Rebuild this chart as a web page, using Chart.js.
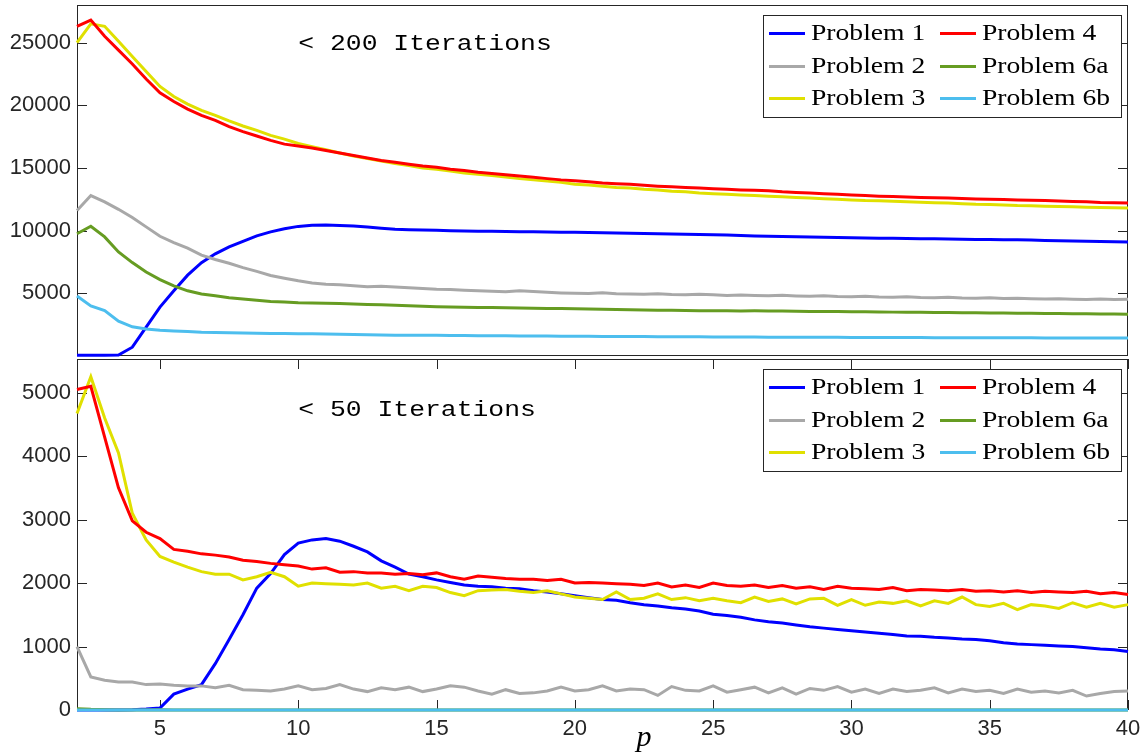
<!DOCTYPE html>
<html>
<head>
<meta charset="utf-8">
<script src="https://cdn.jsdelivr.net/npm/chart.js@4.4.0/dist/chart.umd.min.js"></script>
<style>
  html, body { margin: 0; padding: 0; background: #fff; }
  #wrap { position: relative; width: 1148px; height: 753px; }
  canvas { position: absolute; left: 0; }
  #top200 { top: 0; }
  #top50 { top: 357px; }
</style>
</head>
<body>
<div id="wrap">
  <canvas id="top200" width="1148" height="358"></canvas>
  <canvas id="top50" width="1148" height="396"></canvas>
</div>
<script>
// p values (x axis), one sample every 0.5
var pVals = [
  2, 2.5, 3, 3.5, 4, 4.5, 5, 5.5, 6, 6.5,
  7, 7.5, 8, 8.5, 9, 9.5, 10, 10.5, 11, 11.5,
  12, 12.5, 13, 13.5, 14, 14.5, 15, 15.5, 16, 16.5,
  17, 17.5, 18, 18.5, 19, 19.5, 20, 20.5, 21, 21.5,
  22, 22.5, 23, 23.5, 24, 24.5, 25, 25.5, 26, 26.5,
  27, 27.5, 28, 28.5, 29, 29.5, 30, 30.5, 31, 31.5,
  32, 32.5, 33, 33.5, 34, 34.5, 35, 35.5, 36, 36.5,
  37, 37.5, 38, 38.5, 39, 39.5, 40
];

var xTicks = [5, 10, 15, 20, 25, 30, 35, 40];
var yTicks200 = [5000, 10000, 15000, 20000, 25000];
var yTicks50 = [0, 1000, 2000, 3000, 4000, 5000];

var seriesNames = ['Problem 1', 'Problem 2', 'Problem 3', 'Problem 4', 'Problem 6a', 'Problem 6b'];
var lineColors = ['#0000ff', '#a8a8a8', '#e0e000', '#ff0000', '#669c22', '#4dbeee'];

// ---- < 200 iterations ----
var p1_200 = [
  50, 50, 60, 80, 700, 2300, 3900, 5200, 6450, 7450,
  8150, 8700, 9150, 9580, 9900, 10150, 10340, 10430, 10450, 10420,
  10380, 10300, 10200, 10120, 10080, 10050, 10030, 10000, 9980, 9960,
  9950, 9930, 9920, 9910, 9900, 9880, 9870, 9860, 9840, 9820,
  9800, 9780, 9760, 9740, 9720, 9700, 9680, 9650, 9610, 9580,
  9550, 9530, 9510, 9490, 9470, 9450, 9430, 9410, 9400, 9390,
  9370, 9360, 9350, 9330, 9320, 9300, 9290, 9280, 9270, 9250,
  9220, 9200, 9170, 9150, 9130, 9110, 9090
];
var p2_200 = [
  11600, 12800, 12300, 11700, 11050, 10300, 9550, 9050, 8600, 8050,
  7700, 7400, 7050, 6750, 6420, 6200, 6000, 5830, 5720, 5680,
  5600, 5530, 5560, 5500, 5440, 5380, 5320, 5300, 5240, 5200,
  5160, 5120, 5200, 5150, 5080, 5030, 5000, 4980, 5040, 4960,
  4940, 4920, 4960, 4900, 4880, 4930, 4880, 4830, 4860, 4820,
  4800, 4840, 4790, 4760, 4800, 4740, 4720, 4760, 4700, 4680,
  4720, 4660, 4640, 4680, 4620, 4600, 4640, 4580, 4600, 4560,
  4540, 4570, 4530, 4500, 4540, 4500, 4520
];
var p3_200 = [
  25000, 26500, 26300, 25100, 23900, 22700, 21500, 20700, 20100, 19600,
  19200, 18750, 18350, 18000, 17600, 17300, 16950, 16700, 16450, 16200,
  15950, 15750, 15550, 15350, 15200, 15000, 14900, 14750, 14600, 14500,
  14400, 14280, 14150, 14050, 13950, 13850, 13700, 13650, 13550, 13450,
  13400, 13300, 13250, 13150, 13100, 13000, 12950, 12900, 12850, 12800,
  12750, 12700, 12650, 12600, 12550, 12500, 12450, 12400, 12380, 12340,
  12300, 12260, 12230, 12200, 12150, 12100, 12080, 12050, 12000, 11980,
  11950, 11920, 11900, 11870, 11850, 11830, 11800
];
var p4_200 = [
  26300, 26800, 25500, 24400, 23300, 22100, 21000, 20300, 19700, 19200,
  18800, 18300, 17900, 17550, 17200, 16900, 16750, 16600, 16400, 16200,
  16000, 15800, 15600, 15450, 15300, 15150, 15050, 14900, 14800, 14650,
  14550, 14450, 14350, 14250, 14150, 14050, 13980, 13900, 13800, 13750,
  13700, 13620, 13550, 13500, 13450, 13400, 13350, 13300, 13250, 13220,
  13180, 13100, 13050, 13000, 12950, 12900, 12850, 12800, 12750, 12720,
  12680, 12650, 12620, 12600, 12560, 12530, 12500, 12480, 12450, 12420,
  12400, 12370, 12330, 12300, 12250, 12230, 12200
];
var p6a_200 = [
  9750, 10350, 9500, 8300, 7450, 6700, 6100, 5600, 5200, 4950,
  4800, 4650, 4550, 4450, 4350, 4300, 4250, 4230, 4200, 4180,
  4140, 4110, 4080, 4050, 4000, 3960, 3930, 3910, 3890, 3870,
  3860, 3850, 3830, 3810, 3790, 3780, 3760, 3740, 3720, 3700,
  3690, 3670, 3650, 3640, 3630, 3610, 3600, 3600, 3590, 3600,
  3590, 3580, 3560, 3550, 3550, 3540, 3530, 3520, 3510, 3500,
  3490, 3490, 3480, 3470, 3460, 3450, 3440, 3430, 3420, 3410,
  3400, 3390, 3380, 3370, 3360, 3350, 3340
];
var p6b_200 = [
  4780, 4000, 3620, 2780, 2330, 2150, 2050, 1990, 1950, 1900,
  1880, 1850, 1830, 1810, 1800, 1790, 1780, 1770, 1760, 1740,
  1720, 1700, 1680, 1660, 1650, 1650, 1650, 1640, 1630, 1620,
  1620, 1610, 1600, 1600, 1590, 1580, 1570, 1570, 1560, 1560,
  1550, 1550, 1540, 1540, 1530, 1530, 1520, 1520, 1515, 1510,
  1505, 1500, 1500, 1495, 1490, 1490, 1485, 1480, 1480, 1475,
  1470, 1470, 1465, 1460, 1460, 1455, 1455, 1450, 1450, 1450,
  1445, 1445, 1440, 1440, 1440, 1440, 1440
];

// ---- < 50 iterations ----
var p1_50 = [
  0, 0, 0, 0, 5, 15, 30, 250, 330, 400,
  730, 1110, 1500, 1920, 2150, 2450, 2630, 2680, 2700, 2660,
  2580, 2490, 2350, 2250, 2140, 2100, 2050, 2010, 1970, 1950,
  1940, 1920, 1910, 1880, 1860, 1830, 1800, 1770, 1740, 1730,
  1690, 1660, 1640, 1610, 1590, 1560, 1510, 1490, 1460, 1420,
  1390, 1370, 1340, 1310, 1290, 1270, 1250, 1230, 1210, 1190,
  1165, 1160, 1145, 1135, 1120, 1110, 1090, 1060, 1040, 1030,
  1020, 1010, 1000, 980, 960, 950, 920
];
var p2_50 = [
  1000, 520, 470, 440, 440, 400, 410, 390, 380, 380,
  350, 390, 320, 310, 300, 330, 380, 320, 340, 400,
  330, 290, 350, 320, 360, 290, 330, 380, 360, 300,
  250, 320, 260, 270, 300, 360, 300, 320, 380, 300,
  330, 320, 230, 370, 310, 300, 380, 280, 320, 360,
  270, 350, 250, 340, 310, 370, 280, 330, 260, 330,
  290, 310, 350, 270, 330, 290, 310, 260, 330, 280,
  300, 270, 310, 220, 260, 290, 300
];
var p3_50 = [
  4670, 5250, 4600, 4050, 3100, 2680, 2420, 2330, 2250, 2180,
  2140, 2140, 2050, 2100, 2170, 2100, 1950, 2000, 1990, 1980,
  1970, 2000, 1920, 1950, 1880, 1950, 1930, 1850, 1800, 1880,
  1890, 1900, 1870, 1850, 1880, 1830, 1780, 1760, 1740, 1860,
  1740, 1760, 1830, 1740, 1770, 1720, 1760, 1720, 1690, 1780,
  1710, 1750, 1670, 1750, 1760, 1650, 1740, 1650, 1700, 1680,
  1720, 1640, 1720, 1680, 1780, 1660, 1630, 1680, 1580, 1660,
  1640, 1600, 1690, 1620, 1680, 1620, 1660
];
var p4_50 = [
  5050, 5100, 4300, 3500, 2980, 2800, 2700, 2530, 2500, 2460,
  2440, 2410, 2360, 2340, 2310, 2290, 2270, 2220, 2240, 2170,
  2180, 2160, 2160, 2140, 2150, 2130, 2160, 2100, 2060, 2110,
  2090, 2070, 2060, 2060, 2040, 2060, 2000, 2010, 2000, 1990,
  1980, 1960, 2000, 1940, 1970, 1930, 2000, 1960, 1950, 1970,
  1930, 1960, 1920, 1940, 1900, 1950, 1920, 1910, 1900, 1930,
  1880, 1900, 1890, 1880, 1900, 1870, 1880, 1860, 1880, 1850,
  1870, 1860, 1850, 1870, 1830, 1850, 1820
];
var p6a_50 = [
  20, 10, 5, 0, 0, 0, 5, 0, 0, 0,
  0, 0, 0, 0, 0, 0, 0, 0, 0, 0,
  0, 0, 0, 0, 0, 0, 0, 0, 0, 0,
  0, 0, 0, 0, 0, 0, 0, 0, 0, 0,
  0, 0, 0, 0, 0, 0, 0, 0, 0, 0,
  0, 0, 0, 0, 0, 0, 0, 0, 0, 0,
  0, 0, 0, 0, 0, 0, 0, 0, 0, 0,
  0, 0, 0, 0, 0, 0, 0
];
var p6b_50 = [
  0, 0, 0, 0, 0, 0, 0, 0, 0, 0,
  0, 0, 0, 0, 0, 0, 0, 0, 0, 0,
  0, 0, 0, 0, 0, 0, 0, 0, 0, 0,
  0, 0, 0, 0, 0, 0, 0, 0, 0, 0,
  0, 0, 0, 0, 0, 0, 0, 0, 0, 0,
  0, 0, 0, 0, 0, 0, 0, 0, 0, 0,
  0, 0, 0, 0, 0, 0, 0, 0, 0, 0,
  0, 0, 0, 0, 0, 0, 0
];

var axisColor = '#262626';
var tickFont = { family: '"Liberation Sans", Arial, sans-serif', size: 22 };

// box around the axes, with ticks pointing inwards (drawn under the lines)
var frameTicks = {
  id: 'frameTicks',
  beforeDatasetsDraw: function (chart, args, o) {
    var ctx = chart.ctx, a = chart.chartArea, sx = chart.scales.x, sy = chart.scales.y;
    var len = 10;
    ctx.save();
    ctx.strokeStyle = axisColor;
    ctx.lineWidth = 1;
    ctx.strokeRect(a.left + 0.5, a.top + 0.5, a.right - a.left - 1, a.bottom - a.top - 1);
    ctx.beginPath();
    sx.ticks.forEach(function (t) {
      var px = Math.round(sx.getPixelForValue(t.value)) + 0.5;
      if (o.bottom) { ctx.moveTo(px, a.bottom); ctx.lineTo(px, a.bottom - len); }
      if (o.top) { ctx.moveTo(px, a.top); ctx.lineTo(px, a.top + len); }
    });
    sy.ticks.forEach(function (t) {
      var py = Math.round(sy.getPixelForValue(t.value)) + 0.5;
      ctx.moveTo(a.left, py); ctx.lineTo(a.left + len, py);
      ctx.moveTo(a.right, py); ctx.lineTo(a.right - len, py);
    });
    ctx.stroke();
    ctx.restore();
  }
};

// "< N Iterations" note placed in data coordinates, plus the p label
var iterNote = {
  id: 'iterNote',
  afterDatasetsDraw: function (chart, args, o) {
    var ctx = chart.ctx, sx = chart.scales.x, sy = chart.scales.y;
    ctx.save();
    ctx.font = '22px "Liberation Mono", monospace';
    ctx.fillStyle = '#000';
    ctx.textBaseline = 'middle';
    ctx.translate(sx.getPixelForValue(o.at[0]), sy.getPixelForValue(o.at[1]) + 2);
    ctx.scale(1.2, 1);
    ctx.fillText(o.text, 0, 0);
    ctx.restore();
    if (o.xTitle) {
      ctx.save();
      ctx.font = 'italic 30px "Liberation Serif", serif';
      ctx.fillStyle = '#000';
      ctx.textAlign = 'center';
      ctx.textBaseline = 'alphabetic';
      ctx.fillText(o.xTitle, 644, chart.chartArea.bottom + 36);
      ctx.restore();
    }
  }
};

// two-column boxed legend in the top right corner
var boxLegend = {
  id: 'boxLegend',
  afterDatasetsDraw: function (chart) {
    var ctx = chart.ctx, a = chart.chartArea;
    var w = 358, h = 102;
    var bx = a.right - 7 - w, by = a.top + 10;
    ctx.save();
    ctx.fillStyle = '#fff';
    ctx.fillRect(bx, by, w, h);
    ctx.strokeStyle = axisColor;
    ctx.lineWidth = 1;
    ctx.strokeRect(bx + 0.5, by + 0.5, w, h);
    ctx.font = '23px "Liberation Serif", serif';
    ctx.textBaseline = 'middle';
    chart.data.datasets.forEach(function (ds, i) {
      var col = Math.floor(i / 3), row = i % 3;
      var x0 = bx + 6 + col * 171;
      var yy = Math.round(by + 18 + row * 32.7) + 0.5;
      ctx.strokeStyle = ds.borderColor;
      ctx.lineWidth = 3;
      ctx.beginPath();
      ctx.moveTo(x0, yy);
      ctx.lineTo(x0 + 36, yy);
      ctx.stroke();
      ctx.save();
      ctx.fillStyle = '#000';
      ctx.translate(x0 + 42, yy);
      ctx.scale(1.2, 1);
      ctx.fillText(ds.label, 0, 0);
      ctx.restore();
    });
    ctx.restore();
  }
};

// drop the label overhang Chart.js reserves, so the plot box sits where the padding says
function noOverhang(s) {
  s.paddingTop = 0;
  s.paddingBottom = 0;
  s.paddingLeft = 0;
  s.paddingRight = 0;
}

function buildChart(canvasId, series, cfg) {
  var datasets = series.map(function (vals, i) {
    return {
      label: seriesNames[i],
      data: vals.map(function (v, k) { return { x: pVals[k], y: v }; }),
      borderColor: lineColors[i],
      backgroundColor: lineColors[i],
      borderWidth: 3,
      pointRadius: 0,
      tension: 0,
      clip: 4,
      order: series.length - i
    };
  });
  return new Chart(document.getElementById(canvasId), {
    type: 'line',
    data: { datasets: datasets },
    options: {
      responsive: false,
      animation: false,
      devicePixelRatio: 1,
      layout: { padding: cfg.padding },
      plugins: {
        legend: { display: false },
        tooltip: { enabled: false },
        frameTicks: { bottom: cfg.xLabels, top: cfg.xLabels },
        iterNote: { text: cfg.note, at: cfg.noteAt, xTitle: cfg.xTitle }
      },
      scales: {
        x: {
          type: 'linear',
          min: 2,
          max: 40,
          grid: { display: false, drawTicks: false },
          border: { display: false },
          ticks: {
            display: cfg.xLabels,
            padding: 6,
            autoSkip: false,
            maxRotation: 0,
            color: axisColor,
            font: tickFont,
            callback: function (v) { return String(v); }
          },
          afterBuildTicks: function (s) { s.ticks = xTicks.map(function (v) { return { value: v }; }); },
          afterFit: function (s) { s.height = cfg.xHeight; noOverhang(s); }
        },
        y: {
          min: 0,
          max: cfg.yMax,
          grid: { display: false, drawTicks: false },
          border: { display: false },
          ticks: {
            padding: 6,
            color: axisColor,
            font: tickFont,
            callback: function (v) { return String(v); }
          },
          afterBuildTicks: function (s) { s.ticks = cfg.yTicks.map(function (v) { return { value: v }; }); },
          afterFit: function (s) { s.width = 77; noOverhang(s); }
        }
      }
    },
    plugins: [frameTicks, iterNote, boxLegend]
  });
}

buildChart('top200', [p1_200, p2_200, p3_200, p4_200, p6a_200, p6b_200], {
  padding: { top: 5, right: 20, bottom: 2, left: 0 },
  yMax: 28000,
  yTicks: yTicks200,
  xLabels: false,
  xHeight: 0,
  note: '< 200 Iterations',
  noteAt: [10, 25000]
});

buildChart('top50', [p1_50, p2_50, p3_50, p4_50, p6a_50, p6b_50], {
  padding: { top: 2, right: 20, bottom: 0, left: 0 },
  yMax: 5530,
  yTicks: yTicks50,
  xLabels: true,
  xHeight: 43,
  note: '< 50 Iterations',
  noteAt: [10, 4750],
  xTitle: 'p'
});
</script>
</body>
</html>
